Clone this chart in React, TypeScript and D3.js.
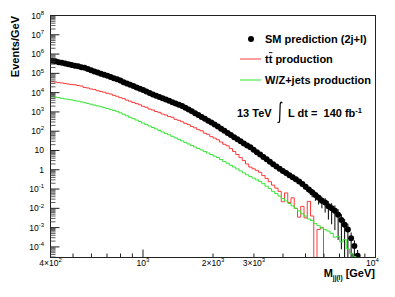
import * as d3 from 'd3'

// invariant mass binning (log-spaced bins)
const M_MIN = 400, M_MAX = 10000, N_BINS = 100

// Events/GeV per bin (0 = empty bin)
const smValues = [
  4.5e5, 4.2e5, 3.8e5, 3.5e5, 3.2e5, 3.0e5, 2.7e5, 2.5e5, 2.3e5, 2.1e5,
  1.95e5, 1.66e5, 1.45e5, 1.26e5, 1.1e5, 9.5e4, 8.5e4, 7.4e4, 6.5e4, 5.6e4,
  4.9e4, 4.2e4, 3.5e4, 3.0e4, 2.6e4, 2.2e4, 1.86e4, 1.58e4, 1.35e4, 1.15e4,
  9.5e3, 8.1e3, 6.9e3, 6.0e3, 5.1e3, 4.4e3, 3.8e3, 3.2e3, 2.75e3, 2.35e3,
  2.05e3, 1.66e3, 1.35e3, 1.07e3, 850, 690, 550, 440, 350, 280,
  220, 174, 135, 105, 81, 63, 49, 38, 30, 23,
  18, 14.5, 11, 8.1, 6.2, 4.6, 3.5, 2.6, 1.95, 1.48,
  1.12, 0.87, 0.68, 0.52, 0.41, 0.32, 0.245, 0.18, 0.13, 0.095,
  0.068, 0.049, 0.035, 0.025, 0.02, 0.013, 0.010, 0.0074, 0.0046, 0.0025,
  0.0014, 8e-4, 2.8e-4, 1.1e-4, 3.5e-5, 0, 0, 0, 0, 0,
]
// relative stat. error of the SM points, from bin 70 on
const SM_ERR_FROM = 70
const smRelErr = [
  0.05, 0.06, 0.08, 0.1, 0.12, 0.15, 0.2, 0.25, 0.3, 0.35,
  0.45, 0.5, 0.55, 0.6, 0.7, 0.8, 0.85, 0.9, 0.95, 0.97,
  0.98, 0.99, 1, 1, 1,
]
const ttValues = [
  3.7e4, 3.55e4, 3.3e4, 3.16e4, 3.0e4, 2.8e4, 2.65e4, 2.55e4, 2.35e4, 2.2e4,
  1.86e4, 1.74e4, 1.55e4, 1.45e4, 1.26e4, 1.15e4, 1.05e4, 9.3e3, 8.5e3, 7.2e3,
  6.5e3, 5.5e3, 4.9e3, 4.1e3, 3.6e3, 3.1e3, 2.7e3, 2.35e3, 1.95e3, 1.74e3,
  1.41e3, 1.26e3, 1.05e3, 950, 780, 690, 575, 525, 410, 365,
  310, 255, 220, 175, 150, 120, 105, 79, 69, 52,
  44, 36, 27.5, 21, 17.5, 12.6, 8.9, 6.2, 4.3, 3.0,
  2.0, 1.38, 1.12, 0.93, 0.74, 0.5, 0.355, 0.24, 0.16, 0.112,
  0.076, 0.022, 0.063, 0.02, 0.035, 0.01, 0.0035, 0.0126, 0.0032, 0.023,
  0.004, 0, 8e-4, 1e-3, 0, 0, 0, 0, 0, 0,
  0, 0, 0, 0, 0, 0, 0, 0, 0, 0,
]
const wzValues = [
  6.2e3, 5.9e3, 5.5e3, 5.1e3, 4.7e3, 4.5e3, 4.2e3, 3.8e3, 3.6e3, 3.3e3,
  3.0e3, 2.75e3, 2.5e3, 2.25e3, 2.05e3, 1.86e3, 1.66e3, 1.51e3, 1.35e3, 1.2e3,
  1.07e3, 890, 760, 630, 525, 450, 380, 316, 263, 224,
  186, 155, 132, 110, 91, 76, 65, 54, 45, 38,
  31.6, 26.3, 21.9, 18.2, 15.1, 12.6, 10.7, 8.9, 7.4, 6.2,
  5.1, 4.3, 3.4, 2.7, 2.2, 1.7, 1.38, 1.1, 0.87, 0.69,
  0.55, 0.45, 0.37, 0.3, 0.25, 0.19, 0.141, 0.105, 0.076, 0.058,
  0.043, 0.032, 0.024, 0.018, 0.0135, 0.01, 0.0074, 0.0052, 0.004, 0.0028,
  0.0023, 0.0016, 0.00126, 9.5e-4, 7.9e-4, 6.6e-4, 5.0e-4, 3.2e-4, 3.5e-4, 1.8e-4,
  2.4e-4, 7.9e-5, 4.5e-5, 3.2e-5, 0, 0, 0, 0, 0, 0,
]

const yTickExps = [8, 7, 6, 5, 4, 3, 2, 1, 0, -1, -2, -3, -4]
const xTickLabels = [
  { v: 400, base: '4×10', exp: '2' },
  { v: 1000, base: '10', exp: '3' },
  { v: 2000, base: '2×10', exp: '3' },
  { v: 3000, base: '3×10', exp: '3' },
  { v: 10000, base: '10', exp: '4' },
]
const legendItems = ['SM prediction (2j+l)', 'tt production', 'W/Z+jets production']

const W = 395, H = 297
const L = 50.5, R = 375.5, T = 15.5, B = 257.5
const FONT = '"Liberation Sans", Arial, Helvetica, sans-serif'
const RED = '#ff3a3a', GREEN = '#33e633'

const edges = d3.range(N_BINS + 1).map((i) => M_MIN * (M_MAX / M_MIN) ** (i / N_BINS))
const x = d3.scaleLog().domain([M_MIN, M_MAX]).range([L, R])
const y = d3.scaleLog().domain([10 ** -4.55, 1e8]).range([B, T])

const yOf = (v: number) => (v > 0 ? Math.min(B + 2, y(v)) : B + 2)

function stepPath(vals: number[]) {
  let last = vals.length - 1
  while (last >= 0 && !(vals[last] > 0)) last--
  let d = ''
  for (let i = 0; i <= last; i++) {
    const yy = yOf(vals[i])
    d += `${i === 0 ? 'M' : 'L'}${x(edges[i])},${yy}L${x(edges[i + 1])},${yy}`
  }
  return d + `L${x(edges[last + 1])},${B + 2}`
}

export default function App() {
  const yMinor: number[] = []
  for (let e = -5; e < 8; e++) for (let k = 2; k <= 9; k++) {
    const v = k * 10 ** e
    if (y(v) <= B && y(v) >= T) yMinor.push(v)
  }
  const xMinor = [500, 600, 700, 800, 900, 2000, 3000, 4000, 5000, 6000, 7000, 8000, 9000]
  const centers = edges.slice(0, -1).map((e, i) => Math.sqrt(e * edges[i + 1]))

  return (
    <svg width={W} height={H} style={{ position: 'absolute', left: 0, top: 0, background: '#fff' }} fontFamily={FONT}>
      <defs>
        <clipPath id="plot"><rect x={L} y={T} width={R - L} height={B - T} /></clipPath>
      </defs>
      <rect x={0} y={0} width={W} height={H} fill="#fff" />

      <g clipPath="url(#plot)">
        {/* SM error bars */}
        {smRelErr.map((r, j) => {
          const i = j + SM_ERR_FROM
          const v = smValues[i]
          if (!(v > 0)) return null
          const cx = x(centers[i])
          return <line key={i} x1={cx} x2={cx} y1={yOf(v * (1 - r))} y2={yOf(v * (1 + r))} stroke="#000" strokeWidth={1} />
        })}
        {smValues.map((v, i) => v > 0 && (
          <circle key={i} cx={x(centers[i])} cy={y(v)} r={3} fill="#000" />
        ))}
        <path d={stepPath(ttValues)} fill="none" stroke={RED} strokeWidth={1} />
        <path d={stepPath(wzValues)} fill="none" stroke={GREEN} strokeWidth={1} />
      </g>

      {/* frame */}
      <rect x={L} y={T} width={R - L} height={B - T} fill="none" stroke="#222" strokeWidth={1} />

      {/* y axis ticks */}
      {yTickExps.map((e) => (
        <line key={e} x1={L} x2={L + 9} y1={y(10 ** e)} y2={y(10 ** e)} stroke="#222" strokeWidth={1} />
      ))}
      {yMinor.map((v) => (
        <line key={v} x1={L} x2={L + 5} y1={y(v)} y2={y(v)} stroke="#333" strokeWidth={0.8} />
      ))}
      {yTickExps.map((e) => (
        <text key={e} x={44} y={y(10 ** e) + 3} fontSize={8.5} textAnchor="end">
          {e === 1 ? '10' : e === 0 ? '1' : (
            <>10<tspan fontSize={6} dy={-3.8}>{e}</tspan></>
          )}
        </text>
      ))}

      {/* x axis ticks */}
      {[1000, 10000].map((v) => (
        <line key={v} x1={x(v)} x2={x(v)} y1={B} y2={B - 8} stroke="#222" strokeWidth={1} />
      ))}
      {xMinor.map((v) => (
        <line key={v} x1={x(v)} x2={x(v)} y1={B} y2={B - 4} stroke="#222" strokeWidth={1} />
      ))}
      {xTickLabels.map((t) => (
        <text key={t.v} x={x(t.v) - (t.v === 10000 ? 3 : 0)} y={266} fontSize={8.5} textAnchor="middle">
          {t.base}<tspan fontSize={6} dy={-3.8}>{t.exp}</tspan>
        </text>
      ))}

      {/* axis titles */}
      <text transform="translate(18.5,16) rotate(-90)" textAnchor="end" fontSize={11} fontWeight="bold">Events/GeV</text>
      <text x={375} y={277} textAnchor="end" fontSize={11} fontWeight="bold">
        M<tspan fontSize={6.5} dy={3}>jj(l)</tspan><tspan dy={-3}> [GeV]</tspan>
      </text>

      {/* legend */}
      <circle cx={251} cy={39} r={3} fill="#000" />
      <line x1={240} x2={261} y1={59} y2={59} stroke={RED} strokeWidth={1} />
      <line x1={240} x2={261} y1={80} y2={80} stroke={GREEN} strokeWidth={1} />
      {legendItems.map((s, i) => (
        <text key={s} x={265} y={43 + [0, 20, 41][i]} fontSize={11} fontWeight="bold">{s}</text>
      ))}
      <line x1={268.9} x2={272.4} y1={52.6} y2={52.6} stroke="#000" strokeWidth={0.9} />

      {/* energy / luminosity */}
      <text x={237} y={117} fontSize={11} fontWeight="bold">13 TeV</text>
      <path d="M282.2,103.2 Q281.6,101.6 280.6,102.6 L280.2,104 L279.6,121 Q279.3,123.4 277.6,122" fill="none" stroke="#000" strokeWidth={1.2} />
      <text x={288} y={117} fontSize={11} fontWeight="bold" style={{ whiteSpace: 'pre' }}>L dt =  140 fb<tspan fontSize={7.5} dy={-4}>-1</tspan></text>
    </svg>
  )
}
